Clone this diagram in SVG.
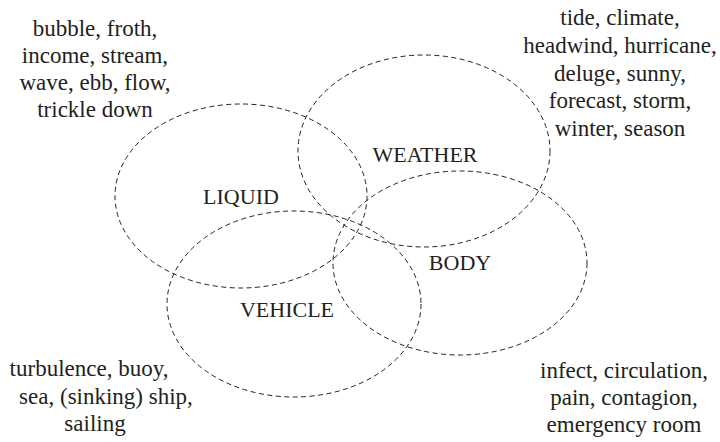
<svg xmlns="http://www.w3.org/2000/svg" width="720" height="442" viewBox="0 0 720 442">
<style>
.e{fill:none;stroke:#231f20;stroke-width:1;stroke-dasharray:5 3.5}
text{font-family:"Liberation Serif","Times New Roman",serif;font-size:23px;fill:#231f20;text-anchor:middle}
.l{font-size:22px}
</style>
<rect width="720" height="442" fill="#fff"/>
<g id="connectors">
<ellipse class="e" cx="241" cy="196" rx="126" ry="92"/>
<ellipse class="e" cx="424" cy="151" rx="126" ry="96"/>
<ellipse class="e" cx="460" cy="263" rx="127" ry="92"/>
<ellipse class="e" cx="294" cy="304" rx="127" ry="93"/>
</g>
<g id="liquid"><text class="l" x="241" y="204">LIQUID</text></g>
<g id="weather"><text class="l" x="425" y="162">WEATHER</text></g>
<g id="body"><text class="l" x="460" y="270">BODY</text></g>
<g id="vehicle"><text class="l" x="287" y="317">VEHICLE</text></g>
<g id="liquid-words">
<text x="95" y="36">bubble, froth,</text>
<text x="95" y="63">income, stream,</text>
<text x="95" y="90">wave, ebb, flow,</text>
<text x="95" y="117">trickle down</text>
</g>
<g id="weather-words">
<text x="620" y="25">tide, climate,</text>
<text x="620" y="53">headwind, hurricane,</text>
<text x="620" y="81">deluge, sunny,</text>
<text x="620" y="108">forecast, storm,</text>
<text x="620" y="136">winter, season</text>
</g>
<g id="vehicle-words">
<text x="89" y="376">turbulence, buoy,</text>
<text x="106" y="404">sea, (sinking) ship,</text>
<text x="95" y="431">sailing</text>
</g>
<g id="body-words">
<text x="624" y="378">infect, circulation,</text>
<text x="624" y="405">pain, contagion,</text>
<text x="624" y="432">emergency room</text>
</g>
</svg>
